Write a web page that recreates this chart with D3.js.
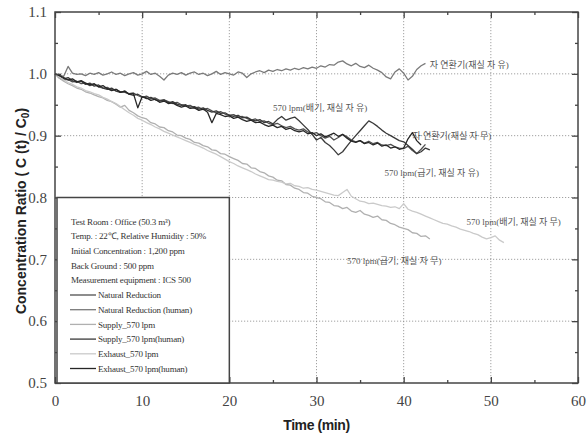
<!DOCTYPE html>
<html>
<head>
<meta charset="utf-8">
<script src="https://d3js.org/d3.v7.min.js"></script>
<style>
  body { margin: 0; background: #fff; }
  svg { display: block; }
</style>
</head>
<body>
<div id="chart"></div>
<script>
// sampling interval of the recorded series (min)
const step = 0.5;

// values, one every 0.5 min starting at t = 0
const naturalHuman = [
  1.000, 0.998, 0.996, 1.012, 1.001, 0.999, 1.000, 0.997, 1.001, 0.999,
  1.002, 0.998, 1.000, 1.003, 0.999, 1.001, 0.997, 1.000, 1.002, 0.998,
  1.000, 1.004, 0.999, 1.001, 0.996, 0.990, 0.998, 1.001, 0.999, 1.002,
  0.998, 1.001, 1.003, 0.999, 1.001, 0.997, 1.000, 1.004, 0.999, 1.002,
  1.000, 0.998, 1.003, 1.001, 0.994, 1.000, 1.003, 1.005, 1.002, 1.006,
  1.004, 1.007, 1.005, 1.008, 1.006, 1.009, 1.007, 1.010, 1.008, 1.011,
  1.009, 1.013, 1.011, 1.015, 1.014, 1.019, 1.021, 1.016, 1.013, 1.017,
  1.012, 1.010, 1.014, 1.009, 1.006, 1.002, 0.995, 0.992, 1.003, 1.008,
  1.001, 0.990, 0.996, 1.007, 1.013, 1.017
];
const natural = [
  1.000, 0.993, 0.990, 0.991, 0.987, 0.988, 0.984, 0.985, 0.981, 0.983,
  0.979, 0.977, 0.978, 0.974, 0.975, 0.971, 0.970, 0.968, 0.969, 0.965,
  0.962, 0.964, 0.960, 0.961, 0.957, 0.958, 0.955, 0.952, 0.954, 0.950,
  0.948, 0.949, 0.945, 0.946, 0.942, 0.944, 0.940, 0.937, 0.939, 0.935,
  0.933, 0.934, 0.930, 0.931, 0.928, 0.925, 0.927, 0.923, 0.924, 0.920,
  0.918, 0.920, 0.916, 0.913, 0.915, 0.911, 0.909, 0.911, 0.906, 0.903,
  0.905, 0.900, 0.896, 0.899, 0.893, 0.897, 0.902, 0.898, 0.893, 0.890,
  0.892, 0.888, 0.891, 0.887, 0.889, 0.885, 0.884, 0.886, 0.882, 0.880,
  0.879, 0.883, 0.876, 0.871, 0.878, 0.886
];
const supply = [
  1.000, 0.993, 0.988, 0.984, 0.981, 0.977, 0.975, 0.971, 0.969, 0.966,
  0.963, 0.961, 0.957, 0.955, 0.951, 0.946, 0.949, 0.941, 0.937, 0.932,
  0.929, 0.927, 0.921, 0.919, 0.914, 0.913, 0.908, 0.906, 0.901, 0.900,
  0.896, 0.894, 0.889, 0.888, 0.884, 0.882, 0.877, 0.876, 0.871, 0.870,
  0.866, 0.863, 0.860, 0.855, 0.854, 0.848, 0.847, 0.842, 0.840, 0.835,
  0.833, 0.828, 0.827, 0.821, 0.820, 0.815, 0.813, 0.808, 0.807, 0.802,
  0.800, 0.798, 0.793, 0.792, 0.787, 0.786, 0.782, 0.784, 0.778, 0.776,
  0.779, 0.773, 0.771, 0.768, 0.770, 0.764, 0.763, 0.758, 0.756, 0.752,
  0.750, 0.748, 0.743, 0.742, 0.737, 0.738, 0.733
];
const supplyHuman = [
  1.000, 0.996, 0.992, 0.994, 0.989, 0.986, 0.988, 0.983, 0.985, 0.980,
  0.982, 0.977, 0.975, 0.977, 0.972, 0.970, 0.972, 0.967, 0.965, 0.967,
  0.963, 0.960, 0.962, 0.958, 0.956, 0.958, 0.953, 0.955, 0.951, 0.949,
  0.950, 0.946, 0.947, 0.943, 0.945, 0.941, 0.938, 0.940, 0.936, 0.937,
  0.933, 0.931, 0.933, 0.929, 0.930, 0.926, 0.924, 0.926, 0.921, 0.923,
  0.919, 0.926, 0.931, 0.925, 0.928, 0.930, 0.924, 0.917, 0.910, 0.902,
  0.893, 0.897, 0.889, 0.884, 0.877, 0.869, 0.874, 0.883, 0.892, 0.900,
  0.908, 0.916, 0.924, 0.920, 0.915, 0.909, 0.904, 0.900, 0.896, 0.892,
  0.890, 0.884, 0.878, 0.871, 0.874, 0.880, 0.877
];
const exhaust = [
  1.000, 0.995, 0.990, 0.986, 0.983, 0.979, 0.977, 0.973, 0.971, 0.968,
  0.966, 0.962, 0.959, 0.955, 0.952, 0.947, 0.942, 0.937, 0.933, 0.928,
  0.925, 0.921, 0.918, 0.914, 0.911, 0.907, 0.904, 0.901, 0.898, 0.895,
  0.892, 0.889, 0.886, 0.883, 0.880, 0.876, 0.873, 0.870, 0.866, 0.862,
  0.858, 0.855, 0.851, 0.848, 0.845, 0.842, 0.838, 0.835, 0.832, 0.829,
  0.828, 0.826, 0.825, 0.822, 0.823, 0.819, 0.818, 0.815, 0.816, 0.813,
  0.812, 0.810, 0.808, 0.806, 0.804, 0.803, 0.808, 0.813, 0.802, 0.798,
  0.794, 0.793, 0.790, 0.791, 0.789, 0.787, 0.786, 0.784, 0.785, 0.782,
  0.790, 0.781, 0.778, 0.776, 0.773, 0.770, 0.767, 0.764, 0.761, 0.758,
  0.757, 0.754, 0.752, 0.749, 0.747, 0.745, 0.742, 0.740, 0.736, 0.733,
  0.735, 0.738, 0.731, 0.727
];
const exhaustHuman = [
  1.000, 0.997, 0.994, 0.990, 0.992, 0.987, 0.989, 0.985, 0.982, 0.984,
  0.979, 0.981, 0.976, 0.973, 0.975, 0.970, 0.972, 0.967, 0.968, 0.945,
  0.963, 0.961, 0.957, 0.959, 0.954, 0.956, 0.952, 0.953, 0.949, 0.946,
  0.948, 0.944, 0.945, 0.941, 0.943, 0.938, 0.921, 0.936, 0.934, 0.931,
  0.932, 0.928, 0.930, 0.926, 0.923, 0.925, 0.921, 0.922, 0.918, 0.915,
  0.917, 0.913, 0.915, 0.910, 0.912, 0.908, 0.906, 0.908, 0.903, 0.905,
  0.900, 0.903, 0.898, 0.901, 0.904, 0.899, 0.902, 0.896, 0.891, 0.889,
  0.892, 0.887, 0.889, 0.885, 0.888, 0.883, 0.885, 0.880, 0.882, 0.878,
  0.880, 0.895, 0.905, 0.892, 0.885
];

const seriesNames = ["Natural Reduction", "Natural Reduction (human)", "Supply_570 lpm",
                     "Supply_570 lpm(human)", "Exhaust_570 lpm", "Exhaust_570 lpm(human)"];
const seriesValues = [natural, naturalHuman, supply, supplyHuman, exhaust, exhaustHuman];
const seriesColors = ["#505050", "#7a7a7a", "#b0b0b0", "#3a3a3a", "#cacaca", "#262626"];

const infoLines = ["Test Room : Office (50.3 m³)", "Temp. : 22℃, Relative Humidity : 50%",
                   "Initial Concentration : 1,200 ppm", "Back Ground : 500 ppm",
                   "Measurement equipment : ICS 500"];

// curve annotations: [text, start time, ratio]
const notes = [
  ["자 연환기(재실 자 유)", 43.0, 1.015],
  ["570 lpm(배기, 재실 자 유)", 25.0, 0.945],
  ["자 연환기(재실 자 무)", 41.0, 0.899],
  ["570 lpm(급기, 재실 자 유)", 37.8, 0.840],
  ["570 lpm(배기, 재실 자 무)", 47.2, 0.760],
  ["570 lpm(급기, 재실 자 무)", 33.5, 0.697]
];

const xTicks = [0, 10, 20, 30, 40, 50, 60];
const yTicks = [0.5, 0.6, 0.7, 0.8, 0.9, 1.0, 1.1];

const serif = "'Liberation Serif', 'Times New Roman', serif";
const sans = "'Liberation Sans', Arial, sans-serif";

const width = 587, height = 436;
const margin = { top: 12, right: 9, bottom: 53, left: 55 };
const w = width - margin.left - margin.right;
const h = height - margin.top - margin.bottom;

const svg = d3.select("#chart").append("svg")
  .attr("width", width)
  .attr("height", height);

const plot = svg.append("g")
  .attr("transform", `translate(${margin.left},${margin.top})`);

const x = d3.scaleLinear().domain([0, 60]).range([0, w]);
const y = d3.scaleLinear().domain([0.5, 1.1]).range([h, 0]);

// dotted grid at the inner major ticks
plot.append("g").selectAll("line")
  .data(xTicks.slice(1, -1))
  .join("line")
  .attr("x1", d => x(d)).attr("x2", d => x(d))
  .attr("y1", 0).attr("y2", h)
  .attr("stroke", "#8a8a8a").attr("stroke-width", 0.8)
  .attr("stroke-dasharray", "1.2,1.8");
plot.append("g").selectAll("line")
  .data(yTicks.slice(1, -1))
  .join("line")
  .attr("y1", d => y(d)).attr("y2", d => y(d))
  .attr("x1", 0).attr("x2", w)
  .attr("stroke", "#8a8a8a").attr("stroke-width", 0.8)
  .attr("stroke-dasharray", "1.2,1.8");

// series
const line = d3.line()
  .x((d, i) => x(i * step))
  .y(d => y(d));

plot.append("g").selectAll("path")
  .data(seriesValues)
  .join("path")
  .attr("d", d => line(d))
  .attr("fill", "none")
  .attr("stroke", (d, i) => seriesColors[i])
  .attr("stroke-width", 1.3)
  .attr("stroke-linejoin", "round");

// annotations on the curves
plot.append("g").selectAll("text")
  .data(notes)
  .join("text")
  .attr("x", d => x(d[1]))
  .attr("y", d => y(d[2]))
  .attr("dy", "0.35em")
  .attr("font-family", "'Liberation Serif', 'Noto Sans CJK KR', serif")
  .attr("font-size", 9)
  .attr("fill", "#555")
  .text(d => d[0]);

// axes: inward ticks on all four sides
const minorX = [5, 15, 25, 35, 45, 55];
const minorY = [0.55, 0.65, 0.75, 0.85, 0.95, 1.05];

function styleAxis(g) {
  g.select(".domain").remove();
  g.selectAll(".tick line").attr("stroke", "#444").attr("stroke-width", 1.3);
  g.selectAll(".tick text")
    .attr("font-family", serif)
    .attr("font-size", 15)
    .attr("fill", "#444");
}

plot.append("g")
  .attr("transform", `translate(0,${h})`)
  .call(d3.axisBottom(x).tickValues(xTicks).tickSize(-6).tickPadding(12).tickFormat(d3.format("d")))
  .call(styleAxis);
plot.append("g")
  .attr("transform", `translate(0,${h})`)
  .call(d3.axisBottom(x).tickValues(minorX).tickSize(-3).tickFormat(""))
  .call(styleAxis);
plot.append("g")
  .call(d3.axisTop(x).tickValues(xTicks).tickSize(-6).tickFormat(""))
  .call(styleAxis);
plot.append("g")
  .call(d3.axisTop(x).tickValues(minorX).tickSize(-3).tickFormat(""))
  .call(styleAxis);

plot.append("g")
  .call(d3.axisLeft(y).tickValues(yTicks).tickSize(-6).tickPadding(8).tickFormat(d3.format(".1f")))
  .call(styleAxis);
plot.append("g")
  .call(d3.axisLeft(y).tickValues(minorY).tickSize(-3).tickFormat(""))
  .call(styleAxis);
plot.append("g")
  .attr("transform", `translate(${w},0)`)
  .call(d3.axisRight(y).tickValues(yTicks).tickSize(-6).tickFormat(""))
  .call(styleAxis);
plot.append("g")
  .attr("transform", `translate(${w},0)`)
  .call(d3.axisRight(y).tickValues(minorY).tickSize(-3).tickFormat(""))
  .call(styleAxis);

// frame
plot.append("rect")
  .attr("width", w).attr("height", h)
  .attr("fill", "none")
  .attr("stroke", "#444").attr("stroke-width", 1.5);

// legend / test conditions box
const legend = plot.append("g")
  .attr("transform", `translate(${x(0) + 2},${y(0.8)})`);
legend.append("rect")
  .attr("width", x(20) - x(0) - 2)
  .attr("height", y(0.5) - y(0.8))
  .attr("fill", "#fff")
  .attr("stroke", "#444").attr("stroke-width", 1.5);

const rowH = 14.7;
legend.selectAll("text.info")
  .data(infoLines)
  .join("text")
  .attr("class", "info")
  .attr("x", 14)
  .attr("y", (d, i) => 24 + i * rowH)
  .attr("dy", "0.35em")
  .attr("font-family", serif)
  .attr("font-size", 9)
  .attr("letter-spacing", -0.2)
  .attr("fill", "#333")
  .text(d => d);

const items = legend.selectAll("g.item")
  .data(seriesNames)
  .join("g")
  .attr("class", "item")
  .attr("transform", (d, i) => `translate(0,${24 + (i + infoLines.length) * rowH})`);
items.append("line")
  .attr("x1", 13).attr("x2", 39)
  .attr("stroke", (d, i) => seriesColors[i])
  .attr("stroke-width", 1.3);
items.append("text")
  .attr("x", 41)
  .attr("dy", "0.35em")
  .attr("font-family", serif)
  .attr("font-size", 9)
  .attr("letter-spacing", -0.2)
  .attr("fill", "#333")
  .text(d => d);

// axis titles
svg.append("text")
  .attr("x", margin.left + w / 2)
  .attr("y", 430)
  .attr("text-anchor", "middle")
  .attr("font-family", sans)
  .attr("font-weight", "bold")
  .attr("font-size", 14)
  .attr("letter-spacing", -0.4)
  .attr("fill", "#222")
  .text("Time (min)");

const yTitle = svg.append("text")
  .attr("transform", "translate(26,211) rotate(-90)")
  .attr("text-anchor", "middle")
  .attr("font-family", sans)
  .attr("font-weight", "bold")
  .attr("font-size", 14)
  .attr("fill", "#222");
yTitle.append("tspan").text("Concentration  Ratio   ( C (t) / C");
yTitle.append("tspan").attr("font-size", 10).attr("dy", 3).text("0");
yTitle.append("tspan").attr("dy", -3).text(")");
</script>
</body>
</html>
